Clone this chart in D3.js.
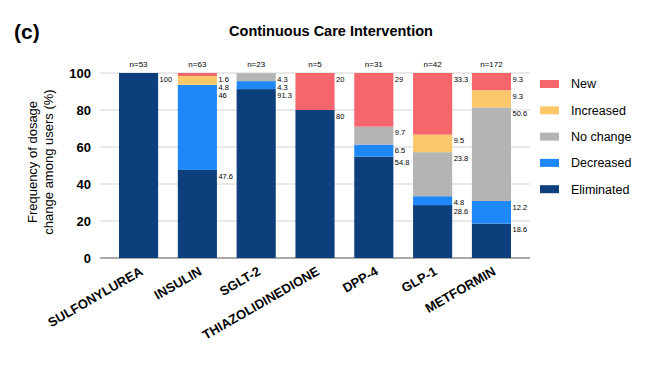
<!DOCTYPE html>
<html><head><meta charset="utf-8">
<script src="https://cdn.jsdelivr.net/npm/d3@7"></script>
<style>body{margin:0;background:#fff;}svg{display:block;font-family:"Liberation Sans",Arial,Helvetica,sans-serif;}</style>
</head><body><svg id="c" width="648" height="369"></svg>
<script>
const categories = ["SULFONYLUREA","INSULIN","SGLT-2","THIAZOLIDINEDIONE","DPP-4","GLP-1","METFORMIN"];
const nLabels = ["n=53","n=63","n=23","n=5","n=31","n=42","n=172"];
const seriesNames = ["Eliminated","Decreased","No change","Increased","New"];
const eliminated = [100, 47.6, 91.3, 80, 54.8, 28.6, 18.6];
const decreased  = [0, 46, 4.3, 0, 6.5, 4.8, 12.2];
const noChange   = [0, 0, 4.3, 0, 9.7, 23.8, 50.6];
const increased  = [0, 4.8, 0, 0, 0, 9.5, 9.3];
const newer      = [0, 1.6, 0, 20, 29, 33.3, 9.3];
const yTicks = [0,20,40,60,80,100];
const colors = {"Eliminated":"#0c3f7c","Decreased":"#1e88f7","No change":"#b4b4b4","Increased":"#fdc86c","New":"#f4666b"};

const seriesVals = {"Eliminated":eliminated,"Decreased":decreased,"No change":noChange,"Increased":increased,"New":newer};
const rows = categories.map((c,i)=>{const r={cat:c}; seriesNames.forEach(s=>r[s]=seriesVals[s][i]); return r;});

const svg = d3.select("#c");
const x = d3.scaleBand().domain(categories).range([100,530]).paddingInner(0.335).paddingOuter(0.323);
const y = d3.scaleLinear().domain([0,100]).range([258,73]);

// grid
svg.append("g").selectAll("line").data(yTicks).join("line")
  .attr("x1",100).attr("x2",530).attr("y1",d=>y(d)).attr("y2",d=>y(d))
  .attr("stroke",d=>d===0?"#555":"#c8c8c8").attr("stroke-width",d=>d===0?1.2:0.8);

// y tick labels
svg.append("g").selectAll("text").data(yTicks).join("text")
  .attr("x",91).attr("y",d=>y(d)).attr("dy","0.36em").attr("text-anchor","end").attr("fill","#000")
  .attr("font-size",13).attr("font-weight","bold").text(d=>d);

const stack = d3.stack().keys(seriesNames)(rows);
svg.append("g").selectAll("g").data(stack).join("g").attr("fill",d=>colors[d.key])
  .selectAll("rect").data(d=>d).join("rect")
  .attr("x",d=>x(d.data.cat)).attr("width",x.bandwidth())
  .attr("y",d=>y(d[1])).attr("height",d=>Math.max(0,y(d[0])-y(d[1])));

// value labels, from top down with collision avoidance
const lab = svg.append("g").attr("font-size",7.5).attr("fill","#000");
categories.forEach((c,i)=>{
  let prev = -1e9;
  for (let k=seriesNames.length-1;k>=0;k--){
    const s = seriesNames[k];
    const v = seriesVals[s][i];
    if (!v) continue;
    const top = y(stack[k][i][1]);
    let cy = Math.max(top+6, prev+8);
    prev = cy;
    lab.append("text").attr("x",x(c)+x.bandwidth()+1.5).attr("y",cy).attr("dy","0.35em").attr("fill","#000").text(v);
  }
});

// n labels
svg.append("g").selectAll("text").data(categories).join("text")
  .attr("x",d=>x(d)+x.bandwidth()/2).attr("y",64.5).attr("dy","0.35em").attr("text-anchor","middle")
  .attr("font-size",8).attr("fill","#000").text((d,i)=>nLabels[i]);

// x labels
svg.append("g").selectAll("text").data(categories).join("text")
  .attr("transform",d=>`translate(${x(d)+x.bandwidth()/2+3},${270}) rotate(-30)`)
  .attr("text-anchor","end").attr("dy","0.35em").attr("fill","#000")
  .attr("font-size",13).attr("font-weight","bold").text(d=>d);

// y axis title
svg.append("text").attr("transform","translate(37,162) rotate(-90)").attr("text-anchor","middle").attr("font-size",13).attr("fill","#000").text("Frequency of dosage");
svg.append("text").attr("transform","translate(53,162) rotate(-90)").attr("text-anchor","middle").attr("font-size",13).attr("fill","#000").text("change among users (%)");

// title
svg.append("text").attr("x",331).attr("y",31).attr("dy","0.35em").attr("text-anchor","middle").attr("fill","#000")
  .attr("font-size",14.5).attr("font-weight","bold").text("Continuous Care Intervention");
svg.append("text").attr("x",14).attr("y",31).attr("dy","0.36em").attr("fill","#000")
  .attr("font-size",21).attr("font-weight","bold").text("(c)");

// legend
const legendOrder = ["New","Increased","No change","Decreased","Eliminated"];
const lg = svg.append("g").selectAll("g").data(legendOrder).join("g")
  .attr("transform",(d,i)=>`translate(540,${84+i*26.3})`);
lg.append("rect").attr("x",0).attr("y",-4).attr("width",19).attr("height",8).attr("fill",d=>colors[d]);
lg.append("text").attr("x",31).attr("y",0).attr("dy","0.35em").attr("font-size",12.5).attr("fill","#000").text(d=>d);
</script></body></html>
